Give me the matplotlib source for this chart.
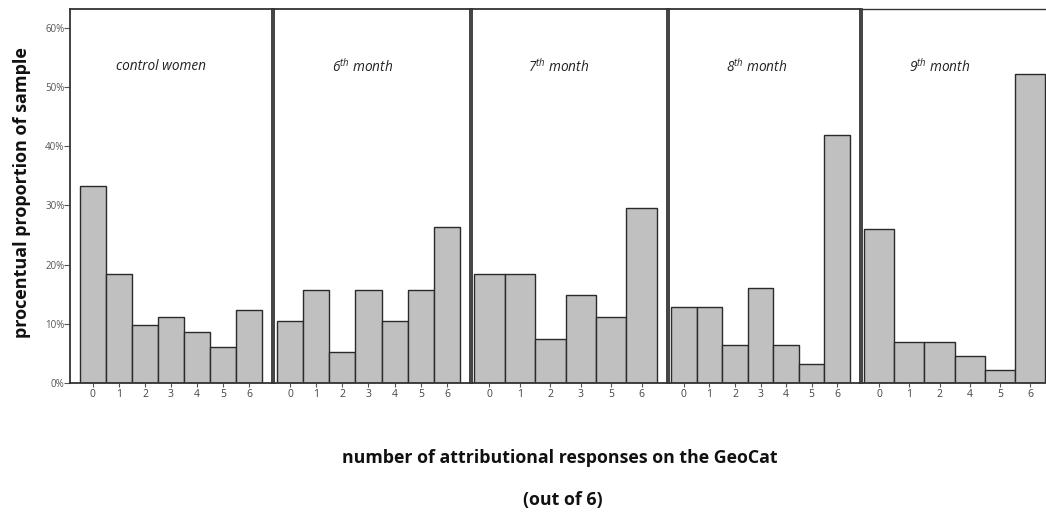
import matplotlib
matplotlib.use('Agg')
import matplotlib.pyplot as plt

plt.rcParams['font.family'] = ['Open Sans', 'DejaVu Sans']
plt.rcParams['mathtext.fontset'] = 'custom'
plt.rcParams['mathtext.it'] = 'Open Sans:italic'

# data (percent of sample)
cats_control = ['0', '1', '2', '3', '4', '5', '6']
vals_control = [33.3, 18.5, 9.8, 11.1, 8.7, 6.1, 12.3]

cats_m6 = ['0', '1', '2', '3', '4', '5', '6']
vals_m6 = [10.5, 15.8, 5.3, 15.8, 10.5, 15.8, 26.3]

cats_m7 = ['0', '1', '2', '3', '5', '6']
vals_m7 = [18.5, 18.5, 7.4, 14.8, 11.1, 29.6]

cats_m8 = ['0', '1', '2', '3', '4', '5', '6']
vals_m8 = [12.9, 12.9, 6.4, 16.1, 6.4, 3.2, 41.9]

cats_m9 = ['0', '1', '2', '4', '5', '6']
vals_m9 = [26.0, 7.0, 7.0, 4.6, 2.2, 52.2]

titles = ['control women', r'6$^{\mathit{th}}$ month', r'7$^{\mathit{th}}$ month',
          r'8$^{\mathit{th}}$ month', r'9$^{\mathit{th}}$ month']
title_x = [0.45, 0.454, 0.446, 0.46, 0.424]

panels = [
    (cats_control, vals_control, [70, 272], (-0.88, 6.88)),
    (cats_m6, vals_m6, [274, 470], (-0.61, 6.88)),
    (cats_m7, vals_m7, [472, 667], (-0.57, 5.83)),
    (cats_m8, vals_m8, [669, 860], (-0.58, 6.89)),
    (cats_m9, vals_m9, [862, 1046], (-0.57, 5.53)),
]

W, H = 1046, 514
fig = plt.figure(figsize=(W / 100, H / 100), dpi=100)

bottom_px, top_px = 383, 9
frame = '#333333'

for i, (cats, vals, (x0, x1), xl) in enumerate(panels):
    ax = fig.add_axes([x0 / W, (H - bottom_px) / H, (x1 - x0) / W, (bottom_px - top_px) / H])
    pos = list(range(len(cats)))
    ax.bar(pos, vals, width=1.0, color='#c0c0c0', edgecolor='#2a2a2a', linewidth=1.0)
    ax.set_xlim(*xl)
    ax.set_ylim(0, 63.2)
    ax.set_xticks(pos)
    ax.set_xticklabels(cats, fontsize=7.5, color='#444444')
    ax.tick_params(axis='x', length=3, width=0.8, color='#555555', pad=1)
    for s in ax.spines.values():
        s.set_color(frame)
        s.set_linewidth(1.3)
    if i == 0:
        ax.set_yticks([0, 10, 20, 30, 40, 50, 60])
        ax.set_yticklabels(['0%', '10%', '20%', '30%', '40%', '50%', '60%'],
                           fontsize=7, color='#555555')
        ax.tick_params(axis='y', length=4, width=0.8, color='#555555', pad=0)
    else:
        ax.set_yticks([])
    if i == 4:
        ax.spines['right'].set_visible(False)
        ax.spines['top'].set_linewidth(1.0)
    ax.text(title_x[i], 0.845, titles[i], transform=ax.transAxes,
            ha='center', va='center', fontsize=9.8, style='italic', color='#222222')

fig.text(22 / W, 1 - 193 / H, 'procentual proportion of sample', rotation=90,
         ha='center', va='center', fontsize=13, fontweight='bold', color='#111111')
fig.text(560 / W, 1 - 458 / H, 'number of attributional responses on the GeoCat',
         ha='center', va='center', fontsize=12.8, fontweight='bold', color='#111111')
fig.text(563 / W, 1 - 500 / H, '(out of 6)',
         ha='center', va='center', fontsize=12.8, fontweight='bold', color='#111111')

fig.savefig('out.png', dpi=100)
